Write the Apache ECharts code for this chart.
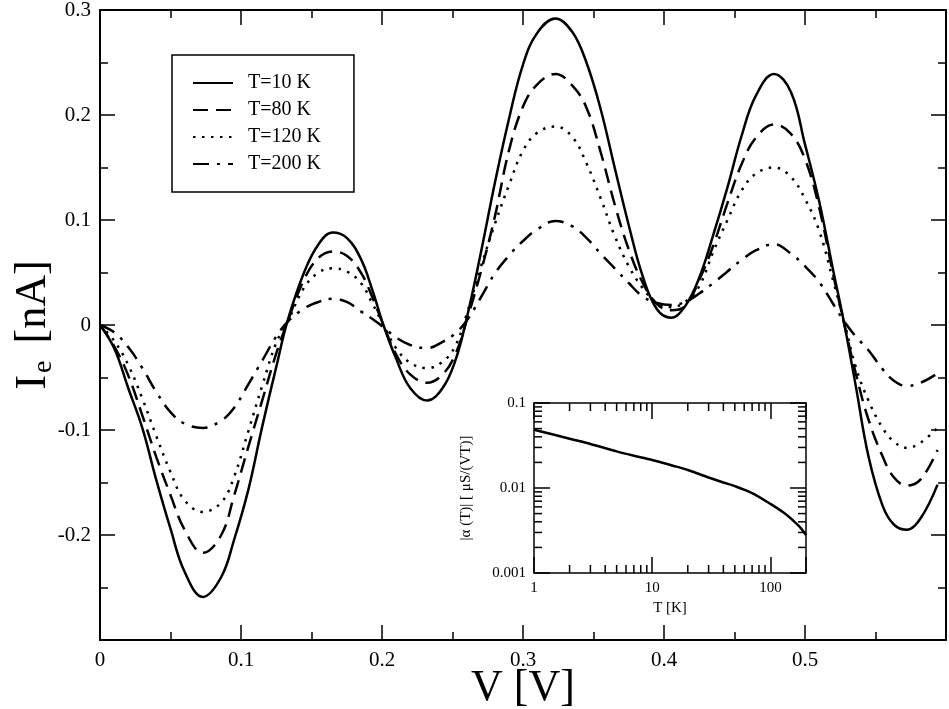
<!DOCTYPE html>
<html>
<head>
<meta charset="utf-8">
<script src="https://cdn.jsdelivr.net/npm/echarts@6/dist/echarts.min.js"></script>
<style>
  html, body { margin: 0; padding: 0; background: #fff; }
  #chart { width: 949px; height: 709px; }
</style>
</head>
<body>
<div id="chart"></div>
<script>
// bias voltage [V], shared by all four curves
const volts = [0, 0.01, 0.02, 0.03, 0.04, 0.05, 0.06, 0.073, 0.086, 0.095,
  0.105, 0.115, 0.125, 0.133, 0.145, 0.155, 0.165, 0.175, 0.185, 0.193,
  0.201, 0.21, 0.22, 0.232, 0.243, 0.252, 0.26, 0.27, 0.28, 0.29,
  0.3, 0.31, 0.323, 0.335, 0.345, 0.355, 0.365, 0.375, 0.385, 0.395,
  0.405, 0.415, 0.425, 0.435, 0.445, 0.455, 0.465, 0.478, 0.49, 0.5,
  0.51, 0.52, 0.528, 0.536, 0.545, 0.555, 0.563, 0.572, 0.582, 0.594];

// I_e [nA] for each temperature
const current10K = [0, -0.022, -0.060, -0.098, -0.148, -0.194, -0.235, -0.259, -0.240, -0.205,
  -0.158, -0.097, -0.040, 0.004, 0.051, 0.077, 0.088, 0.083, 0.063, 0.034,
  0.0, -0.032, -0.060, -0.072, -0.060, -0.034, 0.006, 0.068, 0.135, 0.196,
  0.248, 0.278, 0.292, 0.279, 0.250, 0.206, 0.150, 0.095, 0.046, 0.015,
  0.007, 0.018, 0.045, 0.086, 0.131, 0.180, 0.218, 0.239, 0.222, 0.172,
  0.118, 0.052, 0.0, -0.058, -0.125, -0.172, -0.190, -0.195, -0.184, -0.152];

const current80K = [0, -0.020, -0.048, -0.086, -0.126, -0.162, -0.195, -0.217, -0.200, -0.163,
  -0.117, -0.072, -0.027, 0.003, 0.044, 0.064, 0.070, 0.066, 0.050, 0.027,
  0.0, -0.028, -0.047, -0.055, -0.047, -0.028, 0.004, 0.050, 0.103, 0.166,
  0.208, 0.229, 0.239, 0.228, 0.207, 0.165, 0.115, 0.072, 0.040, 0.020,
  0.014, 0.018, 0.043, 0.076, 0.116, 0.153, 0.178, 0.191, 0.182, 0.158,
  0.112, 0.048, 0.0, -0.046, -0.090, -0.125, -0.145, -0.153, -0.147, -0.119];

const current120K = [0, -0.015, -0.038, -0.070, -0.106, -0.140, -0.167, -0.178, -0.169, -0.145,
  -0.102, -0.058, -0.017, 0.003, 0.036, 0.050, 0.054, 0.051, 0.040, 0.021,
  0.0, -0.022, -0.036, -0.041, -0.035, -0.020, 0.010, 0.055, 0.096, 0.133,
  0.166, 0.183, 0.189, 0.179, 0.154, 0.121, 0.085, 0.056, 0.035, 0.021,
  0.017, 0.022, 0.037, 0.070, 0.100, 0.128, 0.144, 0.150, 0.141, 0.120,
  0.090, 0.042, 0.002, -0.040, -0.072, -0.098, -0.111, -0.117, -0.112, -0.098];

const current200K = [0, -0.007, -0.021, -0.041, -0.064, -0.083, -0.094, -0.098, -0.091, -0.079,
  -0.057, -0.034, -0.011, 0.003, 0.016, 0.022, 0.025, 0.022, 0.013, 0.006,
  -0.002, -0.012, -0.019, -0.022, -0.016, -0.008, 0.004, 0.026, 0.049, 0.066,
  0.080, 0.091, 0.099, 0.094, 0.083, 0.068, 0.054, 0.040, 0.027, 0.021,
  0.019, 0.022, 0.030, 0.040, 0.051, 0.062, 0.071, 0.077, 0.068, 0.056,
  0.041, 0.020, 0.003, -0.011, -0.024, -0.042, -0.053, -0.058, -0.055, -0.046];

const seriesNames = ['T=10 K', 'T=80 K', 'T=120 K', 'T=200 K'];

// inset: |alpha(T)| [uS/(VT)] against T [K]
const insetT = [1, 2, 3, 5, 7, 10, 15, 20, 30, 40, 50, 70, 100, 130, 160, 180, 200];
const insetAlpha = [0.0485, 0.038, 0.033, 0.027, 0.024, 0.0214, 0.0183, 0.0163, 0.0133, 0.0116,
  0.0105, 0.0087, 0.0065, 0.0051, 0.0040, 0.0034, 0.0028];

// inset minor tick positions (log axes)
const insetMinorT = [2, 3, 4, 5, 6, 7, 8, 9, 20, 30, 40, 50, 60, 70, 80, 90];
const insetMinorAlpha = [0.002, 0.003, 0.004, 0.005, 0.006, 0.007, 0.008, 0.009,
  0.02, 0.03, 0.04, 0.05, 0.06, 0.07, 0.08, 0.09];

const serif = 'Liberation Serif';
const black = '#000';

const pair = (xs, ys) => xs.map((x, i) => [x, ys[i]]);
const fmt1 = v => String(+v.toFixed(1));

const tickStyle = { color: black, width: 1.5 };
const frame = { show: true, onZero: false, lineStyle: { color: black, width: 2 } };

const mainAxis = (extra) => Object.assign({
  type: 'value',
  gridIndex: 0,
  axisLine: frame,
  axisTick: { show: true, inside: true, length: 15, lineStyle: tickStyle },
  minorTick: { show: true, splitNumber: 2, length: 8, lineStyle: tickStyle },
  splitLine: { show: false },
  minorSplitLine: { show: false },
  nameMoveOverlap: false
}, extra);

const insetAxis = (extra) => Object.assign({
  type: 'log',
  logBase: 10,
  gridIndex: 1,
  axisLine: { show: true, onZero: false, lineStyle: { color: black, width: 1.5 } },
  axisTick: { show: true, inside: true, length: 16, lineStyle: tickStyle },
  splitLine: { show: false },
  nameMoveOverlap: false
}, extra);

const decadeLabel = v => {
  const e = Math.log10(v);
  if (Math.abs(e - Math.round(e)) > 1e-6) return '';
  const r = Math.round(e);
  return r >= 0 ? String(Math.pow(10, r)) : Math.pow(10, r).toFixed(-r);
};

// short inward ticks for the log axes of the inset
const tickLine = (x1, y1, x2, y2) => ({
  type: 'line', shape: { x1, y1, x2, y2 }, style: { stroke: black, lineWidth: 1.5 }
});

const minorTicks = (axis) => (params, api) => {
  const len = 8;
  if (axis === 'x') {
    const t = api.value(0);
    const a = api.coord([t, 0.001]);
    const b = api.coord([t, 0.1]);
    return { type: 'group', children: [
      tickLine(a[0], a[1], a[0], a[1] - len),
      tickLine(b[0], b[1], b[0], b[1] + len)
    ] };
  }
  const v = api.value(1);
  const a = api.coord([1, v]);
  const b = api.coord([200, v]);
  return { type: 'group', children: [
    tickLine(a[0], a[1], a[0] + len, a[1]),
    tickLine(b[0], b[1], b[0] - len, b[1])
  ] };
};

const lineSeries = (name, data, dash) => ({
  name: name,
  type: 'line',
  xAxisIndex: 0,
  yAxisIndex: 0,
  data: data,
  symbol: 'none',
  smooth: 0.4,
  lineStyle: { color: black, width: 2.5, type: dash },
  itemStyle: { color: black }
});

const chart = echarts.init(document.getElementById('chart'));

chart.setOption({
  animation: false,
  backgroundColor: '#fff',
  grid: [
    { left: 100, right: 3, top: 10, bottom: 69, outerBoundsMode: 'none' },
    { left: 534, top: 403, width: 272, height: 170, outerBoundsMode: 'none' }
  ],
  legend: {
    data: seriesNames,
    orient: 'vertical',
    left: 172,
    top: 55,
    padding: [18, 33, 18, 20],
    itemWidth: 40,
    itemHeight: 14,
    itemGap: 7,
    borderColor: black,
    borderWidth: 1.5,
    itemStyle: { opacity: 0 },
    textStyle: { fontFamily: serif, fontSize: 20, color: black, padding: [0, 0, 0, 10] }
  },
  xAxis: [
    mainAxis({
      min: 0, max: 0.6, interval: 0.1,
      axisLabel: {
        fontFamily: serif, fontSize: 21, color: black, margin: 10,
        formatter: v => (v > 0.55 ? '' : fmt1(v))
      },
      name: 'V [V]',
      nameLocation: 'middle',
      nameGap: 26,
      nameTextStyle: { fontFamily: serif, fontSize: 44, color: black }
    }),
    mainAxis({ position: 'top', min: 0, max: 0.6, interval: 0.1, axisLabel: { show: false } }),
    insetAxis({
      min: 1, max: 200,
      axisLabel: { fontFamily: serif, fontSize: 15, color: black, margin: 8, formatter: decadeLabel },
      name: 'T [K]',
      nameLocation: 'middle',
      nameGap: 28,
      nameTextStyle: { fontFamily: serif, fontSize: 15, color: black }
    }),
    insetAxis({ position: 'top', min: 1, max: 200, axisLabel: { show: false } })
  ],
  yAxis: [
    mainAxis({
      min: -0.3, max: 0.3, interval: 0.1,
      axisLabel: {
        fontFamily: serif, fontSize: 21, color: black, margin: 9,
        formatter: v => (v < -0.25 ? '' : fmt1(v))
      },
      name: '{a|I}{b|e}{a| [nA]}',
      nameLocation: 'middle',
      nameGap: 42,
      nameTextStyle: {
        rich: {
          a: { fontFamily: serif, fontSize: 44, color: black },
          b: { fontFamily: serif, fontSize: 28, color: black, padding: [22, 6, 0, 2] }
        }
      }
    }),
    mainAxis({ position: 'right', min: -0.3, max: 0.3, interval: 0.1, axisLabel: { show: false } }),
    insetAxis({
      min: 0.001, max: 0.1,
      axisLabel: { fontFamily: serif, fontSize: 15, color: black, margin: 8, formatter: decadeLabel },
      name: '|α (T)| [ μS/(VT)]',
      nameLocation: 'middle',
      nameGap: 60,
      nameTextStyle: { fontFamily: serif, fontSize: 15, color: black }
    }),
    insetAxis({ position: 'right', min: 0.001, max: 0.1, axisLabel: { show: false } })
  ],
  series: [
    lineSeries(seriesNames[0], pair(volts, current10K), 'solid'),
    lineSeries(seriesNames[1], pair(volts, current80K), [15, 8]),
    lineSeries(seriesNames[2], pair(volts, current120K), [2.5, 6.5]),
    lineSeries(seriesNames[3], pair(volts, current200K), [16, 8, 3, 8]),
    {
      type: 'line',
      xAxisIndex: 2,
      yAxisIndex: 2,
      data: pair(insetT, insetAlpha),
      symbol: 'none',
      smooth: 0.3,
      lineStyle: { color: black, width: 2.5 }
    },
    {
      type: 'custom',
      xAxisIndex: 2,
      yAxisIndex: 2,
      silent: true,
      data: insetMinorT.map(t => [t, 0.01]),
      renderItem: minorTicks('x')
    },
    {
      type: 'custom',
      xAxisIndex: 2,
      yAxisIndex: 2,
      silent: true,
      data: insetMinorAlpha.map(a => [10, a]),
      renderItem: minorTicks('y')
    }
  ]
});
</script>
</body>
</html>
